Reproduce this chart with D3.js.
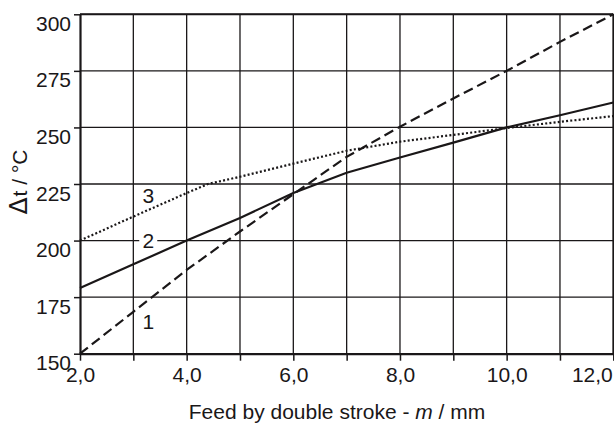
<!DOCTYPE html>
<html>
<head>
<meta charset="utf-8">
<script src="https://cdn.jsdelivr.net/npm/d3@7"></script>
<style>
  html, body { margin: 0; padding: 0; background: #fff; }
  svg { display: block; font-family: Arial, "Liberation Sans", Helvetica, sans-serif; }
</style>
</head>
<body>
<svg id="chart" width="614" height="423"></svg>
<script>
// ---- data ----
const xTicks = [2, 3, 4, 5, 6, 7, 8, 9, 10, 11, 12];
const xTickLabels = ["2,0", "", "4,0", "", "6,0", "", "8,0", "", "10,0", "", "12,0"];
const yTicks = [150, 175, 200, 225, 250, 275, 300];
const yTickLabels = ["150", "175", "200", "225", "250", "275", "300"];

const feed = [2, 3, 4, 5, 6, 7, 8, 9, 10, 11, 12];
const series1 = [150, 168.5, 187, 204, 220.5, 237, 250.3, 262.8, 275, 287.8, 300];          // dashed
const series2 = [179, 189.5, 200, 210, 221, 230, 236.7, 243.3, 250, 255.4, 261];            // solid
const feed3 = [2, 3, 4, 4.4, 5, 6, 7, 8, 9, 10, 11, 12];
const series3 = [200, 210.6, 221, 225, 228.2, 234, 239.7, 243.7, 246.7, 249.7, 252.5, 255]; // dotted

const curveLabels = ["1", "2", "3"];
const curveLabelX = [3.28, 3.28, 3.28];
const curveLabelY = [160.9, 196.7, 216.6];

const xTitle = "Feed by double stroke - ";
const yTitle = "t / °C";

// ---- layout ----
const svg = d3.select("#chart");
const pL = 80, pR = 613.3, pT = 14.3, pB = 353.7;
const x = d3.scaleLinear().domain([2, 12]).range([pL, pR]);
const y = d3.scaleLinear().domain([150, 300]).range([pB, pT]);
const ink = "#1a1718";
const fs = 21;

// grid
const g = svg.append("g");
g.selectAll("line.vx").data(xTicks.slice(1)).join("line")
  .attr("x1", d => x(d)).attr("x2", d => x(d)).attr("y1", pT).attr("y2", pB)
  .attr("stroke", ink).attr("stroke-width", 1.3);
g.selectAll("line.hy").data(yTicks.slice(1)).join("line")
  .attr("x1", pL).attr("x2", pR).attr("y1", d => y(d)).attr("y2", d => y(d))
  .attr("stroke", ink).attr("stroke-width", 1.3);

// axes
const xAxis = d3.axisBottom(x).tickValues(xTicks).tickSize(7).tickSizeOuter(0)
  .tickFormat((d, i) => xTickLabels[i]);
const gx = svg.append("g").attr("transform", `translate(0,${pB})`).call(xAxis);
gx.select(".domain").attr("stroke", ink).attr("stroke-width", 2.2);
gx.selectAll(".tick line").attr("stroke", ink).attr("stroke-width", 1.5);
gx.selectAll(".tick text").attr("font-size", fs).attr("font-family", "Arial, 'Liberation Sans', sans-serif")
  .attr("fill", ink).attr("y", 28.5).attr("dy", 0)
  .attr("text-anchor", d => d === 12 ? "end" : "middle")
  .attr("x", d => d === 12 ? -1 : 0);

const yAxis = d3.axisLeft(y).tickValues(yTicks).tickSize(6).tickSizeOuter(0)
  .tickFormat((d, i) => yTickLabels[i]);
const gy = svg.append("g").attr("transform", `translate(${pL},0)`).call(yAxis);
gy.select(".domain").attr("stroke", ink).attr("stroke-width", 2.2);
gy.selectAll(".tick line").attr("stroke", ink).attr("stroke-width", 1.5);
gy.selectAll(".tick text").attr("font-size", fs).attr("font-family", "Arial, 'Liberation Sans', sans-serif")
  .attr("fill", ink).attr("x", -9).attr("dy", 16);

// frame top/right
svg.append("line").attr("x1", pL).attr("x2", pR).attr("y1", pT).attr("y2", pT)
  .attr("stroke", ink).attr("stroke-width", 2);
svg.append("line").attr("x1", pR).attr("x2", pR).attr("y1", pT).attr("y2", pB)
  .attr("stroke", ink).attr("stroke-width", 1.5);

// curves
const line = d3.line().x(d => x(d[0])).y(d => y(d[1]));
svg.append("path").datum(d3.zip(feed, series1)).attr("d", line)
  .attr("fill", "none").attr("stroke", ink).attr("stroke-width", 2.2).attr("stroke-dasharray", "10,5");
svg.append("path").datum(d3.zip(feed, series2)).attr("d", line)
  .attr("fill", "none").attr("stroke", ink).attr("stroke-width", 2.2);
svg.append("path").datum(d3.zip(feed3, series3)).attr("d", line)
  .attr("fill", "none").attr("stroke", ink).attr("stroke-width", 2.2).attr("stroke-dasharray", "2,2.2");

// curve labels
curveLabels.forEach((t, i) => {
  const cx = x(curveLabelX[i]), cy = y(curveLabelY[i]);
  if (t === "2") {
    svg.append("rect").attr("x", cx - 9).attr("y", cy - 16).attr("width", 18).attr("height", 18).attr("fill", "#fff");
  }
  svg.append("text").attr("x", cx).attr("y", cy).attr("text-anchor", "middle")
    .attr("font-size", fs).attr("fill", ink).text(t);
});

// titles
const xt = svg.append("text").attr("x", 337).attr("y", 419).attr("text-anchor", "middle")
  .attr("font-size", fs).attr("fill", ink);
xt.append("tspan").text(xTitle);
xt.append("tspan").attr("font-style", "italic").text("m");
xt.append("tspan").text(" / mm");

const yt = svg.append("text").attr("transform", "translate(27,182) rotate(-90)")
  .attr("text-anchor", "middle").attr("font-size", fs).attr("fill", ink);
yt.append("tspan").attr("font-size", 25).attr("font-family", "DejaVu Sans, sans-serif").text("Δ");
yt.append("tspan").attr("dx", 1).text(yTitle);
</script>
</body>
</html>
